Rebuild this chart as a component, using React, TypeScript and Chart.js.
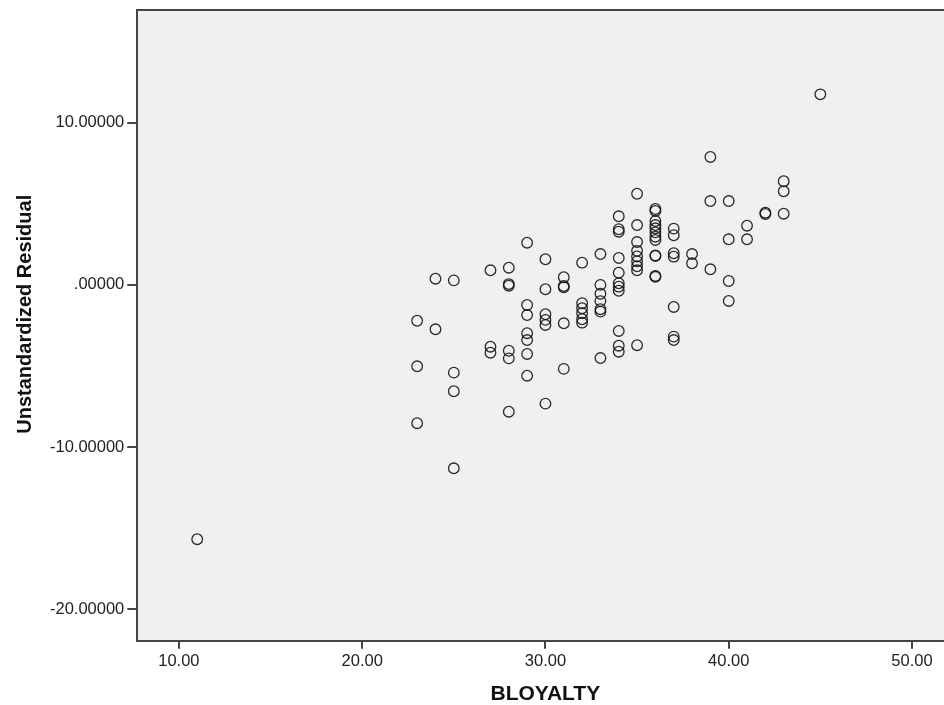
import React, { useEffect, useRef } from "react";
import { Chart, registerables } from "chart.js";

Chart.register(...registerables);

// BLOYALTY (x) and Unstandardized Residual (y)
const BLOYALTY: number[] = [
  11,
  23, 23, 23,
  24, 24,
  25, 25, 25, 25,
  27, 27, 27,
  28, 28, 28, 28, 28, 28,
  29, 29, 29, 29, 29, 29, 29,
  30, 30, 30, 30, 30, 30,
  31, 31, 31, 31, 31,
  32, 32, 32, 32, 32, 32,
  33, 33, 33, 33, 33, 33, 33,
  34, 34, 34, 34, 34, 34, 34, 34, 34, 34, 34,
  35, 35, 35, 35, 35, 35, 35, 35, 35,
  36, 36, 36, 36, 36, 36, 36, 36, 36, 36, 36, 36,
  37, 37, 37, 37, 37, 37, 37,
  38, 38,
  39, 39, 39,
  40, 40, 40, 40,
  41, 41,
  42, 42,
  43, 43, 43,
  45,
];

const RESIDUAL: number[] = [
  -15.68,
  -2.21, -5.02, -8.53,
  0.38, -2.74,
  0.28, -5.41, -6.56, -11.31,
  0.9, -3.81, -4.18,
  1.06, 0.05, -0.05, -4.06, -4.53, -7.82,
  2.6, -1.24, -1.86, -2.98, -3.4, -4.26, -5.6,
  1.58, -0.27, -1.81, -2.16, -2.47, -7.32,
  0.47, -0.07, -0.15, -2.37, -5.18,
  1.37, -1.13, -1.44, -1.75, -2.12, -2.33,
  1.9, 0.0, -0.55, -1.0, -1.5, -1.65, -4.51,
  4.23, 3.43, 3.28, 1.66, 0.75, 0.1, -0.11, -0.36, -2.84, -3.75, -4.12,
  5.62, 3.69, 2.64, 2.1, 1.75, 1.45, 1.15, 0.9, -3.72,
  4.68, 4.56, 3.94, 3.69, 3.49, 3.24, 2.97, 2.77, 1.82, 1.78, 0.55, 0.5,
  3.47, 3.06, 1.95, 1.74, -1.36, -3.19, -3.4,
  1.9, 1.33,
  7.89, 5.17, 0.96,
  5.17, 2.81, 0.24, -0.99,
  3.65, 2.81,
  4.45, 4.37,
  6.39, 5.77, 4.39,
  11.75,
];

const X_TICKS: number[] = [10, 20, 30, 40, 50];
const X_TICK_LABELS: string[] = ["10.00", "20.00", "30.00", "40.00", "50.00"];
const Y_TICKS: number[] = [-20, -10, 0, 10];
const Y_TICK_LABELS: string[] = ["-20.00000", "-10.00000", ".00000", "10.00000"];

const X_TITLE = "BLOYALTY";
const Y_TITLE = "Unstandardized Residual";

const FONT = "'Liberation Sans', Arial, sans-serif";

const frame = {
  id: "spssFrame",
  beforeDraw(chart: any) {
    const { ctx, chartArea } = chart;
    ctx.save();
    ctx.fillStyle = "#F0F0F0";
    ctx.fillRect(chartArea.left, chartArea.top, chartArea.right - chartArea.left, chartArea.bottom - chartArea.top);
    ctx.restore();
  },
  afterDraw(chart: any) {
    const { ctx, chartArea } = chart;
    ctx.save();
    ctx.strokeStyle = "#444444";
    ctx.lineWidth = 2;
    ctx.beginPath();
    ctx.moveTo(chartArea.left - 1, chartArea.top);
    ctx.lineTo(chartArea.right, chartArea.top);
    ctx.lineTo(chartArea.right, chartArea.bottom);
    ctx.stroke();
    ctx.restore();
  },
};

export default function App() {
  const ref = useRef<HTMLCanvasElement>(null);

  useEffect(() => {
    if (!ref.current) return;
    const points = BLOYALTY.map((x, i) => ({ x, y: RESIDUAL[i] }));
    const chart = new Chart(ref.current, {
      type: "scatter",
      data: {
        datasets: [
          {
            data: points,
            pointStyle: "circle",
            pointRadius: 5.3,
            pointBorderWidth: 1.3,
            pointBorderColor: "rgba(20,20,20,0.9)",
            pointBackgroundColor: "rgba(0,0,0,0)",
          },
        ],
      },
      plugins: [frame],
      options: {
        responsive: false,
        animation: false,
        devicePixelRatio: 1,
        layout: { padding: { top: 10, left: 0, right: 6, bottom: 0 } },
        plugins: { legend: { display: false }, tooltip: { enabled: false } },
        scales: {
          x: {
            type: "linear",
            min: 7.73,
            max: 52.26,
            afterFit: (s: any) => {
              s.height = 64.3;
              s.paddingLeft = 0;
              s.paddingRight = 0;
            },
            afterBuildTicks: (s: any) => {
              s.ticks = X_TICKS.map((v) => ({ value: v }));
            },
            grid: {
              display: true,
              drawOnChartArea: false,
              drawTicks: true,
              tickLength: 8,
              color: "#444444",
              lineWidth: 2,
            },
            border: { display: true, color: "#444444", width: 2 },
            ticks: {
              padding: 3,
              maxRotation: 0,
              color: "#222222",
              font: { family: FONT, size: 16.5 },
              callback: (v: any) => {
                const i = X_TICKS.indexOf(Number(v));
                return i >= 0 ? X_TICK_LABELS[i] : "";
              },
            },
            title: {
              display: true,
              text: X_TITLE,
              color: "#111111",
              font: { family: FONT, size: 21, weight: "bold", lineHeight: 1 },
              padding: { top: 0, bottom: 0 },
            },
          },
          y: {
            type: "linear",
            min: -21.94,
            max: 16.95,
            afterFit: (s: any) => {
              s.width = 137.3;
              s.paddingTop = 0;
              s.paddingBottom = 0;
            },
            afterBuildTicks: (s: any) => {
              s.ticks = Y_TICKS.map((v) => ({ value: v }));
            },
            grid: {
              display: true,
              drawOnChartArea: false,
              drawTicks: true,
              tickLength: 10,
              color: "#444444",
              lineWidth: 2,
            },
            border: { display: true, color: "#444444", width: 2 },
            ticks: {
              padding: 3,
              color: "#222222",
              font: { family: FONT, size: 16.5 },
              callback: (v: any) => {
                const i = Y_TICKS.indexOf(Number(v));
                return i >= 0 ? Y_TICK_LABELS[i] : "";
              },
            },
            title: {
              display: true,
              text: "    " + Y_TITLE,
              color: "#111111",
              font: { family: FONT, size: 20, weight: "bold", lineHeight: 1.2 },
              padding: { top: 13.7, bottom: 0 },
            },
          },
        },
      },
    });
    return () => chart.destroy();
  }, []);

  return (
    <div style={{ position: "fixed", left: 0, top: 0, width: 944, height: 705, overflow: "hidden", background: "#ffffff" }}>
      <canvas ref={ref} width={960} height={705} style={{ display: "block", width: 960, height: 705 }} />
    </div>
  );
}
